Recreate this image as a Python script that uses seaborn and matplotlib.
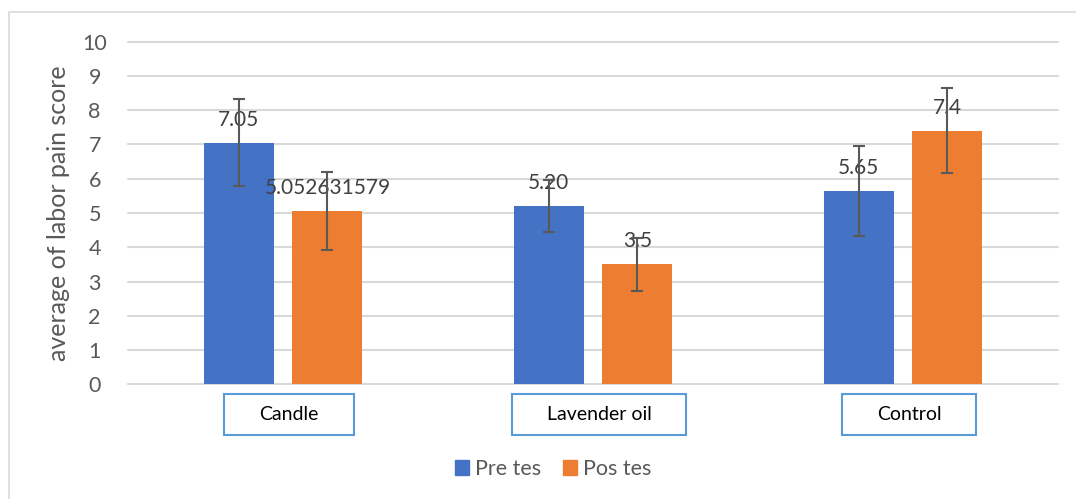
import matplotlib
matplotlib.use("Agg")
import matplotlib.pyplot as plt
import matplotlib.transforms as mtransforms
from matplotlib.path import Path
from matplotlib.patches import Rectangle
import seaborn as sns
import pandas as pd

# ---- data ----
categories = ["Candle", "Lavender oil", "Control"]
series_names = ["Pre tes", "Pos tes"]
pre_values = [7.05, 5.20, 5.65]
post_values = [5.052631579, 3.5, 7.4]
pre_errors = [1.27, 0.75, 1.31]
post_errors = [1.14, 0.77, 1.24]
pre_labels = ["7.05", "5.20", "5.65"]
post_labels = ["5.052631579", "3.5", "7.4"]
y_ticks = list(range(0, 11))

BLUE = "#4472C4"
ORANGE = "#ED7D31"

df = pd.DataFrame({
    "group": categories * 2,
    "test": [series_names[0]] * 3 + [series_names[1]] * 3,
    "score": pre_values + post_values,
})

sns.set_theme(style="white")
plt.rcParams["font.family"] = ["Lato", "DejaVu Sans"]

W, H, DPI = 1076, 499, 100
fig = plt.figure(figsize=(W / DPI, H / DPI), dpi=DPI)
ax = fig.add_axes([128 / W, (H - 384.3) / H, 930 / W, 342.6 / H])

sns.barplot(data=df, x="group", y="score", hue="test", order=categories,
            hue_order=series_names, palette=[BLUE, ORANGE], width=0.574,
            gap=0.213, errorbar=None, saturation=1, linewidth=0, ax=ax)

ax.set_xlim(-0.5, 2.5)
ax.set_ylim(0, 10)
ax.set_yticks(y_ticks)
ax.yaxis.grid(True, color="#d9d9d9", linewidth=1.5)
ax.xaxis.grid(False)
ax.set_axisbelow(True)
for gl in ax.get_ygridlines():
    gl.set_clip_on(False)
for s in ax.spines.values():
    s.set_visible(False)

ax.tick_params(axis="y", length=0, pad=24, labelsize=15.5, labelcolor="#595959")
for lab in ax.get_yticklabels():
    lab.set_ha("center")
ax.set_xticks(range(len(categories)))
ax.set_xticklabels([""] * len(categories))
ax.tick_params(axis="x", length=0)
ax.set_xlabel("")
ax.set_ylabel("average of labor pain score", fontsize=18, color="#595959")
ax.yaxis.set_label_coords(-0.0624, 0.5)

# error bars and data labels
containers = ax.containers
for cont, vals, errs, labs in zip(containers, [pre_values, post_values],
                                  [pre_errors, post_errors],
                                  [pre_labels, post_labels]):
    xs = [p.get_x() + p.get_width() / 2 for p in cont]
    ax.bar_label(cont, labels=labs, padding=9.5, fontsize=15, color="#404040")
    ax.errorbar(xs, vals, yerr=errs, fmt="none", ecolor="#595959",
                elinewidth=1.5, capsize=4, capthick=1.5, zorder=4)


# boxed category labels
def make_box(padx, pady):
    def box(x0, y0, width, height, mutation_size):
        x0 -= padx
        y0 -= pady
        x1 = x0 + width + 2 * padx
        y1 = y0 + height + 2 * pady
        return Path([(x0, y0), (x1, y0), (x1, y1), (x0, y1), (x0, y0)],
                    closed=True)
    return box


trans = mtransforms.blended_transform_factory(ax.transData, ax.transAxes) + \
    mtransforms.ScaledTranslation(6 / DPI, 0, fig.dpi_scale_trans)
for i, cat in enumerate(categories):
    ax.text(i, -0.0896, cat, transform=trans, ha="center", va="center",
            fontsize=14, color="black", clip_on=False,
            bbox=dict(boxstyle=make_box(35, 12), facecolor="white",
                      edgecolor="#5B9BD5", linewidth=1.5))

# legend
if ax.get_legend() is not None:
    ax.get_legend().remove()
handles = [Rectangle((0, 0), 1, 1, color=BLUE), Rectangle((0, 0), 1, 1, color=ORANGE)]
fig.legend(handles, series_names, loc="center",
           bbox_to_anchor=(553 / W, (H - 469) / H), ncol=2, frameon=False,
           handlelength=0.65, handleheight=0.65, handletextpad=0.3,
           columnspacing=1.0, fontsize=15.5, labelcolor="#595959")

# outer chart border (partially outside the image)
fig.add_artist(Rectangle((8.5 / W, -0.2), 1.2, (H - 12.5) / H + 0.2,
                         transform=fig.transFigure, fill=False,
                         edgecolor="#d9d9d9", linewidth=1.2))

fig.savefig("out.png", dpi=DPI)
